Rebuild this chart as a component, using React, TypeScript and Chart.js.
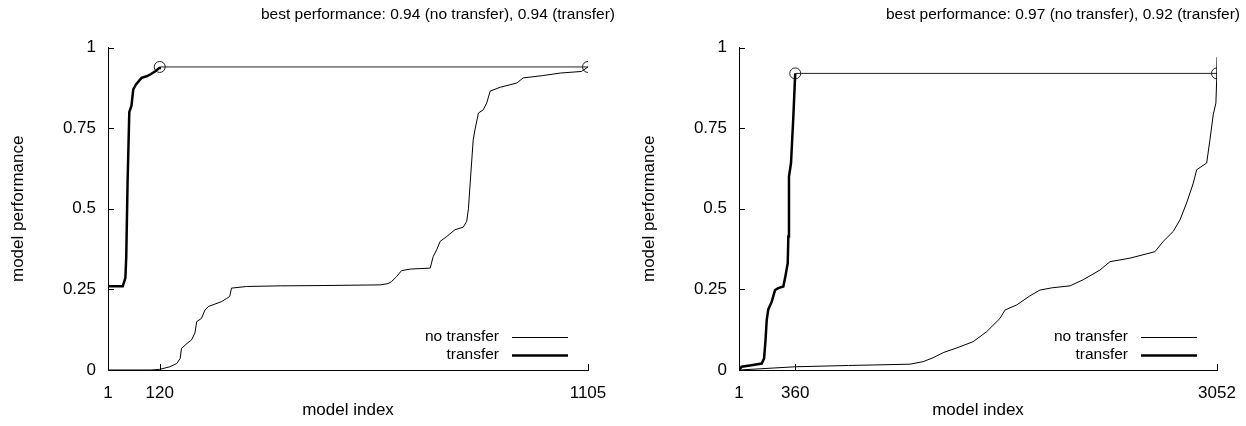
import React, { useEffect, useRef } from "react";
import { Chart, registerables } from "chart.js";

Chart.register(...registerables);

// ---------- data ----------
const leftTitle = "best performance: 0.94 (no transfer), 0.94 (transfer)";
const rightTitle = "best performance: 0.97 (no transfer), 0.92 (transfer)";

const leftXTicks = [1, 120, 1105];
const rightXTicks = [1, 360, 3052];
const yTicks = [0, 0.25, 0.5, 0.75, 1];

const leftNoTransferIdx = [1, 100, 120, 143, 159, 167, 170, 185, 193, 201, 205, 216, 224, 232, 262, 274, 281, 285, 320, 397, 500, 627, 645, 653, 665, 676, 696, 742, 749, 757, 765, 780, 799, 818, 826, 830, 834, 841, 845, 853, 864, 872, 880, 903, 941, 956, 1000, 1041, 1090, 1105];
const leftNoTransferPerf = [0, 0, 0.002, 0.01, 0.02, 0.036, 0.067, 0.085, 0.093, 0.115, 0.15, 0.16, 0.186, 0.197, 0.212, 0.222, 0.228, 0.254, 0.259, 0.261, 0.262, 0.264, 0.268, 0.274, 0.29, 0.308, 0.313, 0.316, 0.352, 0.373, 0.399, 0.414, 0.435, 0.443, 0.461, 0.5, 0.58, 0.714, 0.745, 0.797, 0.807, 0.828, 0.865, 0.877, 0.89, 0.906, 0.913, 0.921, 0.926, 0.94];

const leftTransferIdx = [1, 35, 41, 43, 46, 50, 55, 59, 65, 78, 90, 100, 109, 119, 120];
const leftTransferPerf = [0.26, 0.26, 0.286, 0.352, 0.58, 0.8, 0.82, 0.87, 0.885, 0.906, 0.911, 0.918, 0.926, 0.937, 0.94];

const leftBestIdx = [120, 1105];
const leftBestPerf = [0.94, 0.94];

const rightNoTransferIdx = [1, 360, 700, 1092, 1177, 1240, 1305, 1400, 1496, 1582, 1667, 1699, 1774, 1858, 1922, 2000, 2114, 2198, 2305, 2369, 2497, 2656, 2709, 2773, 2816, 2858, 2901, 2922, 2986, 3007, 3028, 3045, 3050, 3052];
const rightNoTransferPerf = [0, 0.01, 0.014, 0.018, 0.026, 0.038, 0.054, 0.07, 0.088, 0.119, 0.16, 0.186, 0.202, 0.23, 0.248, 0.255, 0.261, 0.28, 0.31, 0.336, 0.347, 0.367, 0.399, 0.43, 0.466, 0.518, 0.58, 0.621, 0.642, 0.714, 0.792, 0.828, 0.9, 0.97];

const rightTransferIdx = [1, 18, 80, 146, 161, 170, 178, 188, 210, 231, 252, 284, 295, 312, 316, 320, 333, 348, 358, 360];
const rightTransferPerf = [0, 0.01, 0.015, 0.02, 0.036, 0.09, 0.155, 0.188, 0.212, 0.248, 0.254, 0.259, 0.285, 0.331, 0.414, 0.6, 0.642, 0.787, 0.9, 0.92];

const rightBestIdx = [360, 3052];
const rightBestPerf = [0.92, 0.92];

const legendLabels = ["no transfer", "transfer"];
const xAxisTitle = "model index";
const yAxisTitle = "model performance";

// ---------- helpers ----------
const FONT = "'Liberation Sans', Arial, Helvetica, sans-serif";

const zip = (xs: number[], ys: number[]) => xs.map((x, i) => ({ x, y: ys[i] }));

const inwardTicks = {
  id: "inwardTicks",
  afterDraw(chart: any) {
    const { ctx, chartArea } = chart;
    const xs = chart.scales.x;
    const ys = chart.scales.y;
    ctx.save();
    ctx.strokeStyle = "#000";
    ctx.lineWidth = 1;
    ctx.beginPath();
    ys.ticks.forEach((t: any) => {
      const py = Math.round(ys.getPixelForValue(t.value)) + 0.5;
      ctx.moveTo(chartArea.left, py);
      ctx.lineTo(chartArea.left + 6, py);
    });
    xs.ticks.forEach((t: any) => {
      const px = Math.round(xs.getPixelForValue(t.value)) + 0.5;
      ctx.moveTo(px, chartArea.bottom);
      ctx.lineTo(px, chartArea.bottom - 6);
    });
    ctx.stroke();
    ctx.restore();
  },
};

const insideLegend = {
  id: "insideLegend",
  afterDraw(chart: any) {
    const { ctx, chartArea } = chart;
    const widths = [1, 2.5];
    ctx.save();
    ctx.font = `15.5px ${FONT}`;
    ctx.fillStyle = "#000";
    ctx.textAlign = "right";
    ctx.textBaseline = "middle";
    legendLabels.forEach((lab, i) => {
      const y = chartArea.bottom - 33 + i * 18;
      ctx.fillText(lab, chartArea.right - 89, y);
      ctx.beginPath();
      ctx.lineWidth = widths[i];
      ctx.strokeStyle = "#000";
      ctx.moveTo(chartArea.right - 76, Math.round(y) + 0.5);
      ctx.lineTo(chartArea.right - 20, Math.round(y) + 0.5);
      ctx.stroke();
    });
    ctx.restore();
  },
};

type PanelProps = {
  title: string;
  xTicks: number[];
  noIdx: number[];
  noPerf: number[];
  trIdx: number[];
  trPerf: number[];
  bestIdx: number[];
  bestPerf: number[];
  padLeft: number;
  padRight: number;
  yWidth: number;
  plotRightGap: number;
  left: number;
};

function Panel(p: PanelProps) {
  const ref = useRef<HTMLCanvasElement | null>(null);
  useEffect(() => {
    if (!ref.current) return;
    const chart = new Chart(ref.current, {
      type: "line",
      data: {
        datasets: [
          {
            data: zip(p.noIdx, p.noPerf),
            borderColor: "#000",
            borderWidth: 1,
            pointRadius: 0,
            tension: 0,
          },
          {
            data: zip(p.trIdx, p.trPerf),
            borderColor: "#000",
            borderWidth: 2.5,
            pointRadius: 0,
            tension: 0,
          },
          {
            data: zip(p.bestIdx, p.bestPerf),
            borderColor: "#222",
            borderWidth: 1,
            pointRadius: 5.5,
            pointBorderWidth: 1,
            pointBorderColor: "#222",
            pointBackgroundColor: "rgba(0,0,0,0)",
            tension: 0,
          },
        ],
      },
      options: {
        responsive: false,
        animation: false,
        devicePixelRatio: 1,
        layout: {
          autoPadding: false,
          padding: { left: p.padLeft, right: p.padRight, top: 0, bottom: 0 },
        },
        plugins: {
          legend: { display: false },
          tooltip: { enabled: false },
          title: {
            display: true,
            text: p.title,
            align: "end",
            color: "#000",
            font: { family: FONT, size: 15.5, weight: "normal", lineHeight: 1.2 },
            padding: { top: 5, bottom: 24 },
          },
        },
        scales: {
          x: {
            type: "linear",
            min: p.xTicks[0],
            max: p.xTicks[p.xTicks.length - 1],
            afterBuildTicks: (s: any) => {
              s.ticks = p.xTicks.map((v) => ({ value: v }));
            },
            afterFit: (s: any) => {
              s.height = 56;
              s.paddingRight = p.plotRightGap;
            },
            grid: { display: false, drawTicks: false },
            border: { display: true, color: "#000", width: 1 },
            ticks: {
              color: "#000",
              font: { family: FONT, size: 17 },
              padding: 13,
              maxRotation: 0,
              autoSkip: false,
              callback: (v: any) => String(v),
            },
            title: {
              display: true,
              text: xAxisTitle,
              color: "#000",
              font: { family: FONT, size: 17, lineHeight: 1.2 },
              padding: { top: 0, bottom: 5 },
            },
          },
          y: {
            type: "linear",
            min: 0,
            max: 1,
            afterBuildTicks: (s: any) => {
              s.ticks = yTicks.map((v) => ({ value: v }));
            },
            afterFit: (s: any) => {
              s.width = p.yWidth;
            },
            grid: { display: false, drawTicks: false },
            border: { display: true, color: "#000", width: 1 },
            ticks: {
              color: "#000",
              font: { family: FONT, size: 17 },
              padding: 12,
              callback: (v: any) => String(v),
            },
            title: {
              display: true,
              text: yAxisTitle,
              color: "#000",
              font: { family: FONT, size: 17, lineHeight: 1.2 },
              padding: 0,
            },
          },
        },
      },
      plugins: [inwardTicks, insideLegend],
    } as any);
    return () => chart.destroy();
  }, []);
  return (
    <canvas
      ref={ref}
      width={623}
      height={426}
      style={{ position: "absolute", left: p.left, top: 0, width: 623, height: 426 }}
    />
  );
}

export default function App() {
  return (
    <div style={{ position: "absolute", left: 0, top: 0, width: 1246, height: 426, background: "#fff" }}>
      <Panel
        title={leftTitle}
        xTicks={leftXTicks}
        noIdx={leftNoTransferIdx}
        noPerf={leftNoTransferPerf}
        trIdx={leftTransferIdx}
        trPerf={leftTransferPerf}
        bestIdx={leftBestIdx}
        bestPerf={leftBestPerf}
        padLeft={8}
        padRight={8}
        yWidth={100}
        plotRightGap={35}
        left={0}
      />
      <Panel
        title={rightTitle}
        xTicks={rightXTicks}
        noIdx={rightNoTransferIdx}
        noPerf={rightNoTransferPerf}
        trIdx={rightTransferIdx}
        trPerf={rightTransferPerf}
        bestIdx={rightBestIdx}
        bestPerf={rightBestPerf}
        padLeft={16}
        padRight={6}
        yWidth={100}
        plotRightGap={29}
        left={623}
      />
    </div>
  );
}
